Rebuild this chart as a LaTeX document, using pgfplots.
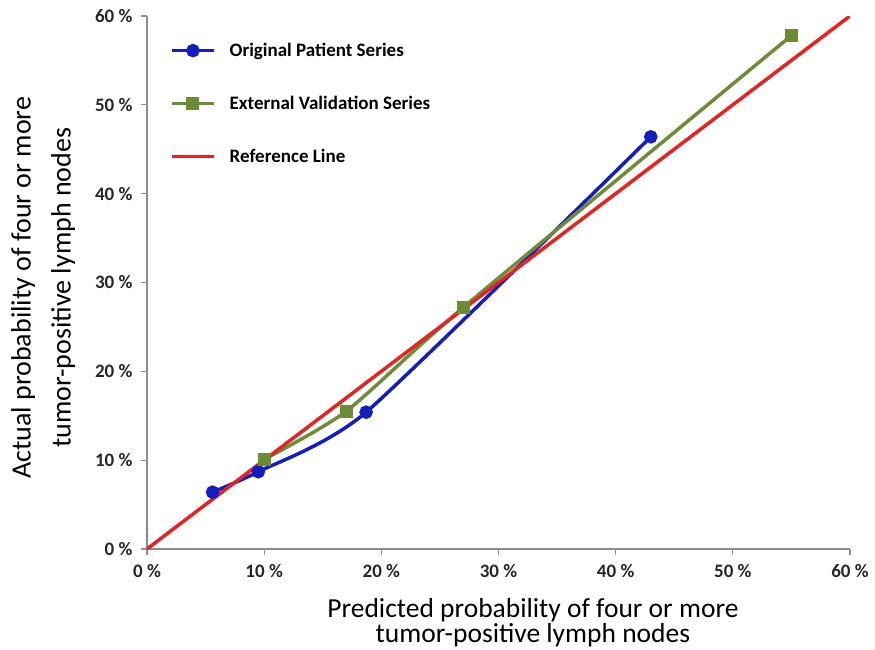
\documentclass[border=0pt]{standalone}
\usepackage{pgfplots}
\pgfplotsset{compat=1.18}
\usepackage{fontspec}
\setmainfont{Carlito}

\definecolor{origblue}{RGB}{20,30,190}
\definecolor{valgreen}{RGB}{110,140,55}
\definecolor{refred}{RGB}{230,35,35}
\definecolor{axisgray}{RGB}{140,140,140}

\begin{document}
\begin{tikzpicture}
\path[use as bounding box] (-147pt,-101pt) rectangle (728pt,549pt);
\begin{axis}[
  at={(0pt,0pt)}, anchor=south west,
  width=703pt, height=533pt, scale only axis,
  xmin=0, xmax=60, ymin=0, ymax=60,
  axis x line*=bottom, axis y line*=left,
  axis line style={axisgray, line width=1.5pt},
  xtick={0,10,...,60}, ytick={0,10,...,60},
  xticklabels={0 \%,10 \%,20 \%,30 \%,40 \%,50 \%,60 \%},
  yticklabels={0 \%,10 \%,20 \%,30 \%,40 \%,50 \%,60 \%},
  tick align=outside, major tick length=6pt,
  tick style={axisgray, line width=1.2pt},
  ticklabel style={font=\fontsize{19}{22}\selectfont\bfseries, text=black!85},
  xticklabel style={yshift=-6pt},
  yticklabel style={xshift=-5pt},
  xlabel={Predicted probability of four or more\\tumor-positive lymph nodes},
  ylabel={Actual probability of four or more\\tumor-positive lymph nodes},
  xlabel style={at={(axis description cs:0.549,0)}, anchor=north, yshift=-49pt,
    inner sep=0pt, align=center,
    font={\fontsize{27.5}{25}\selectfont\lineskiplimit=-100pt}},
  ylabel style={at={(axis description cs:-0.1935,0.49)}, anchor=north, rotate=0,
    inner sep=0pt, align=center,
    font={\fontsize{28}{40}\selectfont\lineskiplimit=-100pt}},
  legend style={at={(rel axis cs:0,1)}, anchor=north west, xshift=23pt, yshift=-25pt,
    draw=none, fill=none, inner sep=0pt, row sep=34pt,
    font=\fontsize{19}{22}\selectfont\bfseries,
    /tikz/every odd column/.append style={column sep=12pt}},
  legend cell align=left,
  legend image code/.code={%
    \draw[mark repeat=2,mark phase=2,#1] plot coordinates {(0pt,0pt) (21pt,0pt) (42pt,0pt)};},
]
% original patient series
\addplot[origblue, line width=3.5pt, smooth, tension=0.35,
  mark=*, mark size=5pt, mark options={solid, fill=origblue}]
  coordinates {(5.6,6.4) (9.5,8.7) (18.7,15.4) (43.0,46.4)};
\addlegendentry{Original Patient Series}
% external validation series
\addplot[valgreen, line width=3.5pt, smooth, tension=0.4,
  mark=square*, mark size=4.8pt, mark options={solid, fill=valgreen}]
  coordinates {(10.0,10.1) (17.0,15.5) (27.0,27.2) (55.0,57.8)};
\addlegendentry{External Validation Series}
% identity reference
\addplot[refred, line width=3.5pt] coordinates {(0,0) (60,60)};
\addlegendentry{Reference Line}
\end{axis}
\end{tikzpicture}
\end{document}
